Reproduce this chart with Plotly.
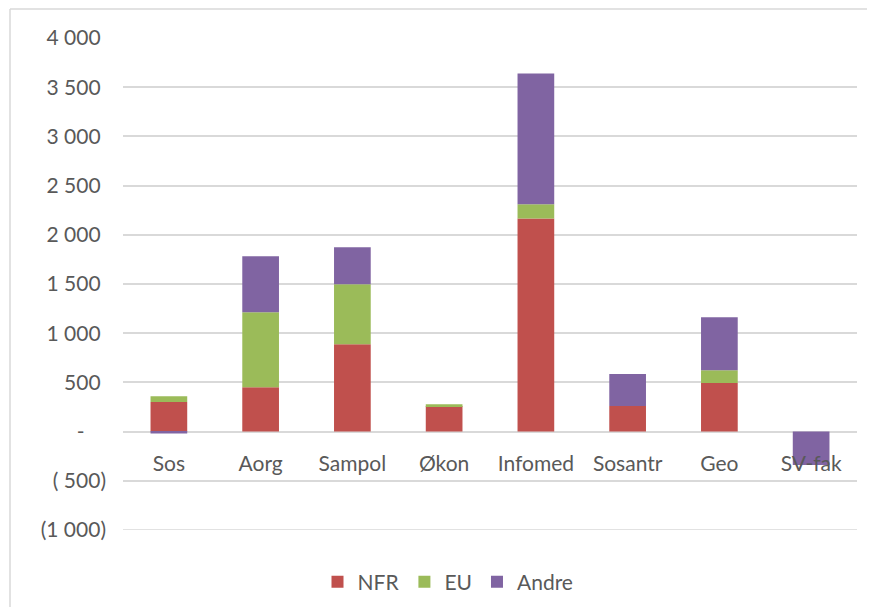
import plotly.graph_objects as go

categories = ["Sos", "Aorg", "Sampol", "Økon", "Infomed", "Sosantr", "Geo", "SV-fak"]
nfr = [300, 450, 887, 260, 2165, 260, 494, 0]
eu = [58, 762, 610, 17, 145, 0, 129, 0]
andre = [-20, 570, 376, 0, 1328, 325, 539, -340]

tick_vals = [4000, 3500, 3000, 2500, 2000, 1500, 1000, 500, 0, -500, -1000]
tick_text = ["4 000\u00a0", "3 500\u00a0", "3 000\u00a0", "2 500\u00a0", "2 000\u00a0",
             "1 500\u00a0", "1 000\u00a0", "500\u00a0", "-\u00a0\u00a0\u00a0\u00a0",
             "(\u00a0500)", "(1 000)"]

FONT = "Lato"
TXT = "#595959"
GRID = "#D9D9D9"
FS = 21

fig = go.Figure()
for name, vals, col in [("NFR", nfr, "#C0504D"), ("EU", eu, "#9BBB59"), ("Andre", andre, "#8064A2")]:
    fig.add_trace(go.Bar(x=categories, y=vals, name=name, marker=dict(color=col, line=dict(width=0))))

# page body has an 8px margin, so figure coordinates are screen coordinates minus 8
OFF = 8
W, H = 875 - 2 * OFF, 615 - 2 * OFF
L, R, T, B = 123 - OFF, 857 - OFF, 38 - OFF, 530 - OFF

def px(x):
    return (x - OFF - L) / (R - L)

def py(y):
    return (B - (y - OFF)) / (B - T)

fig.update_layout(
    width=W, height=H,
    margin=dict(l=L, r=W - R, t=T, b=H - B, pad=0, autoexpand=False),
    barmode="relative",
    bargap=0.6,
    plot_bgcolor="white",
    paper_bgcolor="white",
    font=dict(family=FONT, size=FS, color=TXT),
    showlegend=True,
    legend=dict(orientation="h", x=px(448), xanchor="center", y=py(582), yanchor="middle",
                font=dict(family=FONT, size=FS, color=TXT), traceorder="normal",
                itemwidth=30, bgcolor="rgba(0,0,0,0)"),
    xaxis=dict(anchor="free", position=0.2, showgrid=False, zeroline=False, showline=False,
               ticks="", tickfont=dict(family=FONT, size=FS, color=TXT), ticklabelstandoff=17),
    yaxis=dict(range=[tick_vals[-1], tick_vals[0]], tickvals=tick_vals, ticktext=tick_text,
               showgrid=True, gridcolor=GRID, gridwidth=1.5, zeroline=True, zerolinecolor=GRID,
               zerolinewidth=1.5, showline=False, ticks="", ticklabelstandoff=16,
               tickfont=dict(family=FONT, size=FS, color=TXT)),
    shapes=[
        # bottom gridline (plotly omits the gridline at the range edge)
        dict(type="line", xref="paper", yref="y", x0=0, x1=1, y0=tick_vals[-1], y1=tick_vals[-1],
             line=dict(color=GRID, width=1.5), layer="below"),
        # chart-area frame (top and left edges visible)
        dict(type="line", xref="paper", yref="paper", x0=px(10), x1=px(880), y0=py(9), y1=py(9),
             line=dict(color=GRID, width=1.5), layer="below"),
        dict(type="line", xref="paper", yref="paper", x0=px(10), x1=px(10), y0=py(9), y1=py(620),
             line=dict(color=GRID, width=1.5), layer="below"),
    ],
)

fig.write_html("out.html")
